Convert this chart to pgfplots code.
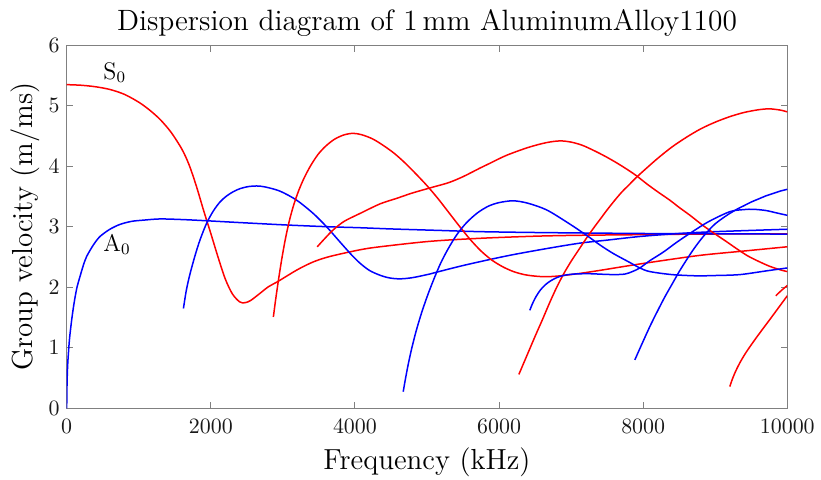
\documentclass[border=0pt]{standalone}
\usepackage{pgfplots}
\pgfplotsset{compat=1.18}
\begin{document}
\begin{tikzpicture}
\path[use as bounding box] (-33.35pt,-35.35pt) rectangle (377.15pt,204.15pt);
\begin{axis}[
  scale only axis, width=360.3pt, height=181.5pt,
  xmin=0, xmax=10000, ymin=0, ymax=6,
  xtick={0,2000,4000,6000,8000,10000}, ytick={0,1,2,3,4,5,6},
  scaled x ticks=false,
  /pgf/number format/1000 sep={},
  tick align=inside, major tick length=3.2pt,
  axis line style={black!50, line width=0.5pt},
  every tick/.style={black!50, line width=0.5pt},
  tick label style={font=\fontsize{11.25}{13}\selectfont, black!90},
  xticklabel style={yshift=-2.1pt},
  title={Dispersion diagram of 1\,mm AluminumAlloy1100},
  title style={font=\fontsize{14.7}{17}\selectfont, at={(axis description cs:0.5,1)}, anchor=base, yshift=1.3pt},
  xlabel={Frequency (kHz)},
  xlabel style={font=\fontsize{14.5}{17}\selectfont, at={(axis description cs:0.5,0)}, anchor=base, yshift=-30.75pt},
  ylabel={Group velocity (m/ms)},
  ylabel style={font=\fontsize{14.5}{17}\selectfont, at={(axis description cs:0,0.5)}, anchor=base, yshift=17.2pt},
  every axis plot/.append style={line width=0.75pt, smooth, no marks},
  clip=true,
]
% S0
\addplot[red] coordinates {(0,5.35)(200,5.34)(400,5.315)(600,5.27)(800,5.19)(1000,5.06)(1150,4.93)(1300,4.77)(1450,4.56)(1600,4.28)(1700,4.02)(1800,3.67)(1900,3.27)(2000,2.89)(2100,2.50)(2200,2.14)(2300,1.89)(2400,1.76)(2470,1.745)(2550,1.78)(2682,1.90)(2800,2.01)(2936,2.10)(3200,2.29)(3422,2.42)(3653,2.51)(4069,2.62)(4347,2.67)(5040,2.76)(5734,2.81)(6500,2.845)(7121,2.86)(7954,2.87)(8800,2.88)(10000,2.885)};
% A0
\addplot[blue] coordinates {(0,0)(3,0.3)(8,0.55)(15,0.75)(25,0.93)(40,1.16)(69,1.46)(100,1.72)(139,1.98)(185,2.18)(230,2.36)(277,2.51)(370,2.70)(462,2.84)(600,2.96)(740,3.04)(900,3.09)(1063,3.11)(1294,3.13)(1600,3.12)(1942,3.10)(2404,3.07)(3052,3.03)(3653,3.00)(4069,2.985)(4500,2.965)(5180,2.94)(5734,2.92)(6566,2.905)(7954,2.89)(9000,2.885)(10000,2.88)};
% A1
\addplot[blue] coordinates {(1620,1.65)(1660,1.95)(1711,2.22)(1780,2.52)(1849,2.78)(1942,3.06)(2034,3.26)(2127,3.41)(2220,3.51)(2311,3.58)(2404,3.63)(2520,3.665)(2636,3.675)(2750,3.66)(2959,3.59)(3191,3.44)(3422,3.22)(3607,3.00)(3792,2.75)(3950,2.54)(4069,2.40)(4200,2.28)(4347,2.20)(4480,2.155)(4624,2.14)(4800,2.16)(5040,2.22)(5133,2.25)(5500,2.36)(5873,2.46)(6196,2.54)(6659,2.64)(7121,2.73)(7500,2.78)(7954,2.84)(8500,2.89)(9000,2.92)(10000,2.96)};
% S1
\addplot[red] coordinates {(2868,1.51)(2900,1.80)(2940,2.13)(2985,2.47)(3035,2.80)(3090,3.10)(3150,3.36)(3220,3.60)(3300,3.82)(3390,4.02)(3490,4.20)(3600,4.34)(3720,4.45)(3850,4.52)(3976,4.545)(4100,4.52)(4250,4.45)(4400,4.34)(4550,4.21)(4700,4.05)(4850,3.87)(5000,3.68)(5150,3.47)(5300,3.24)(5450,3.01)(5600,2.79)(5750,2.60)(5900,2.45)(6050,2.34)(6200,2.26)(6350,2.21)(6500,2.185)(6659,2.175)(6850,2.19)(7121,2.23)(7400,2.28)(7815,2.36)(8200,2.43)(8800,2.53)(9400,2.60)(10000,2.67)};
% S2
\addplot[red] coordinates {(3477,2.67)(3600,2.83)(3699,2.95)(3850,3.09)(4069,3.22)(4350,3.38)(4578,3.47)(4800,3.56)(5063,3.65)(5300,3.73)(5502,3.83)(5734,3.97)(5873,4.05)(6100,4.18)(6400,4.31)(6650,4.39)(6844,4.42)(7000,4.40)(7150,4.35)(7300,4.27)(7450,4.18)(7600,4.08)(7750,3.97)(7900,3.85)(8050,3.71)(8200,3.58)(8370,3.44)(8500,3.32)(8650,3.19)(8832,3.02)(9000,2.88)(9150,2.76)(9295,2.64)(9450,2.52)(9600,2.43)(9750,2.35)(9900,2.29)(10000,2.26)};
% S3
\addplot[red] coordinates {(6275,0.56)(6400,0.91)(6500,1.19)(6600,1.46)(6700,1.74)(6800,2.00)(6900,2.23)(7000,2.43)(7100,2.61)(7200,2.79)(7300,2.96)(7400,3.12)(7500,3.28)(7600,3.43)(7700,3.57)(7800,3.69)(7900,3.81)(8000,3.92)(8200,4.13)(8400,4.32)(8600,4.48)(8800,4.62)(9000,4.73)(9200,4.82)(9400,4.89)(9600,4.935)(9750,4.95)(9900,4.93)(10000,4.90)};
% A2
\addplot[blue] coordinates {(4670,0.275)(4700,0.48)(4740,0.73)(4790,1.00)(4850,1.28)(4920,1.56)(5000,1.84)(5090,2.12)(5190,2.40)(5300,2.65)(5420,2.88)(5550,3.07)(5700,3.23)(5850,3.34)(6000,3.40)(6196,3.43)(6400,3.39)(6659,3.28)(6950,3.07)(7214,2.86)(7400,2.70)(7583,2.56)(7815,2.41)(7954,2.32)(8092,2.26)(8400,2.21)(8740,2.19)(9000,2.195)(9341,2.21)(9700,2.27)(10000,2.32)};
% A3
\addplot[blue] coordinates {(6427,1.62)(6460,1.72)(6510,1.84)(6570,1.95)(6640,2.04)(6720,2.11)(6810,2.165)(6910,2.20)(7050,2.22)(7250,2.225)(7450,2.215)(7620,2.21)(7750,2.22)(7850,2.26)(7954,2.32)(8092,2.44)(8277,2.58)(8460,2.74)(8647,2.89)(8900,3.08)(9202,3.25)(9400,3.285)(9526,3.29)(9700,3.27)(9850,3.23)(10000,3.19)};
% A4
\addplot[blue] coordinates {(7884,0.80)(8000,1.11)(8100,1.37)(8200,1.61)(8300,1.84)(8400,2.05)(8500,2.26)(8600,2.45)(8700,2.63)(8800,2.79)(8900,2.93)(9000,3.05)(9100,3.14)(9200,3.22)(9300,3.29)(9400,3.35)(9500,3.41)(9600,3.46)(9700,3.51)(9800,3.55)(9900,3.59)(10000,3.62)};
% S4
\addplot[red] coordinates {(9202,0.36)(9240,0.49)(9290,0.63)(9350,0.77)(9420,0.91)(9500,1.05)(9590,1.20)(9690,1.36)(9790,1.52)(9895,1.69)(10000,1.86)};
% S5
\addplot[red] coordinates {(9840,1.86)(9920,1.95)(10000,2.03)};
\node[anchor=base west, font=\fontsize{12}{14}\selectfont, inner sep=0pt] at (axis cs:505,5.44) {S$_0$};
\node[anchor=base west, font=\fontsize{12}{14}\selectfont, inner sep=0pt] at (axis cs:505,2.60) {A$_0$};
\end{axis}
\end{tikzpicture}
\end{document}
